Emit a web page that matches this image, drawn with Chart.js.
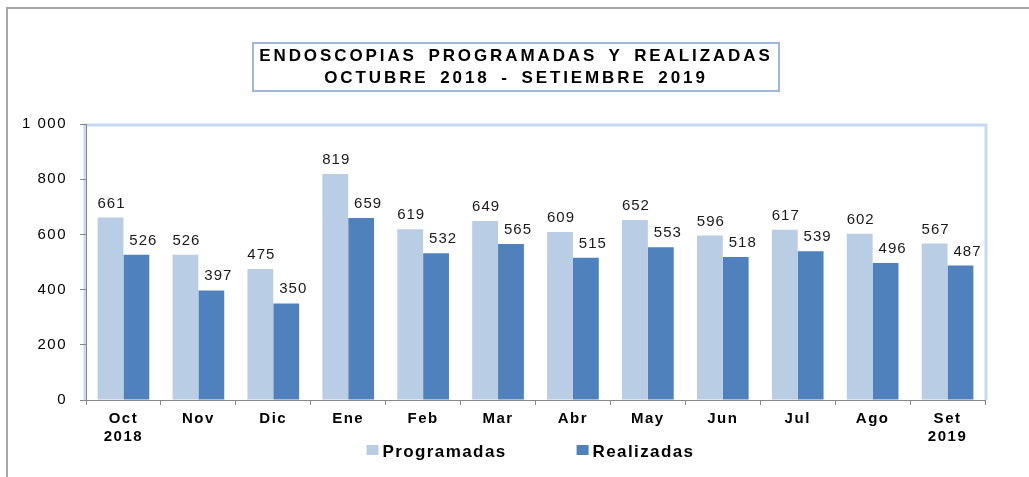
<!DOCTYPE html>
<html>
<head>
<meta charset="utf-8">
<script src="https://cdn.jsdelivr.net/npm/chart.js@4.4.1/dist/chart.umd.min.js"></script>
<style>
  html, body { margin: 0; padding: 0; background: #fff; }
  #wrap { position: relative; width: 1029px; height: 477px; }
  #title {
    position: absolute; left: 252px; top: 42px; width: 524px; height: 45px;
    border: 2px solid #9db8da; box-sizing: content-box;
    font-family: "Liberation Sans", Arial, sans-serif; font-weight: bold;
    font-size: 17px; line-height: 22px; letter-spacing: 2.9px; word-spacing: 4px;
    text-align: center; color: #000; padding-top: 1px;
  }
</style>
</head>
<body>
<div id="wrap">
  <canvas id="chart" width="1029" height="477"></canvas>
  <div id="title">ENDOSCOPIAS PROGRAMADAS Y REALIZADAS<br>OCTUBRE 2018 - SETIEMBRE 2019</div>
</div>
<script>
const months = [['Oct', '2018'], 'Nov', 'Dic', 'Ene', 'Feb', 'Mar', 'Abr', 'May', 'Jun', 'Jul', 'Ago', ['Set', '2019']];
const programadas = [661, 526, 475, 819, 619, 649, 609, 652, 596, 617, 602, 567];
const realizadas = [526, 397, 350, 659, 532, 565, 515, 553, 518, 539, 496, 487];
const yTicks = [0, 200, 400, 600, 800, 1000];

const fontFamily = '"Liberation Sans", Arial, sans-serif';

// the original text is a little wide, so space the letters
const spacing = {
  id: 'spacing',
  beforeLayout(chart) { chart.ctx.letterSpacing = '1.5px'; },
  beforeDraw(chart) { chart.ctx.letterSpacing = '1.5px'; }
};

// outer frame + light blue plot border
const framePlugin = {
  id: 'frame',
  beforeDraw(chart) {
    const ctx = chart.ctx;
    const a = chart.chartArea;
    ctx.save();
    ctx.strokeStyle = '#a6a6a6';
    ctx.lineWidth = 2;
    ctx.beginPath();
    ctx.moveTo(7, 477);
    ctx.lineTo(7, 8);
    ctx.lineTo(1029, 8);
    ctx.stroke();
    ctx.strokeStyle = '#c6d9f1';
    ctx.lineWidth = 3;
    ctx.beginPath();
    ctx.moveTo(a.left - 1, a.bottom);
    ctx.lineTo(a.left - 1, a.top + 1);
    ctx.lineTo(a.right + 1, a.top + 1);
    ctx.lineTo(a.right + 1, a.bottom);
    ctx.stroke();
    ctx.restore();
  }
};

// value labels above bars
const valueLabels = {
  id: 'valueLabels',
  afterDatasetsDraw(chart) {
    const ctx = chart.ctx;
    ctx.save();
    ctx.font = '15px ' + fontFamily;
    ctx.letterSpacing = '1px';
    ctx.fillStyle = '#1a1a1a';
    ctx.textAlign = 'center';
    ctx.textBaseline = 'alphabetic';
    chart.data.datasets.forEach((ds, i) => {
      chart.getDatasetMeta(i).data.forEach((bar, j) => {
        ctx.fillText(ds.data[j], bar.x + (i === 1 ? 7 : 1), bar.y - 10);
      });
    });
    ctx.restore();
  }
};

// legend drawn by hand so the gap between the two items can be wide
const bottomLegend = {
  id: 'bottomLegend',
  afterDraw(chart) {
    const ctx = chart.ctx;
    const a = chart.chartArea;
    const dsets = chart.data.datasets;
    ctx.save();
    ctx.font = 'bold 17px ' + fontFamily;
    ctx.letterSpacing = '1.4px';
    ctx.textBaseline = 'alphabetic';
    ctx.textAlign = 'left';
    const gap = 70, box = 12, boxGap = 4;
    const widths = dsets.map(d => box + boxGap + ctx.measureText(d.label).width);
    const total = widths.reduce((s, w) => s + w, 0) + gap * (dsets.length - 1);
    let x = (a.left + a.right) / 2 - total / 2 - 5;
    const y = 457;
    dsets.forEach((d, i) => {
      ctx.fillStyle = d.backgroundColor;
      ctx.fillRect(x, y - 12, box, 10);
      ctx.fillStyle = '#000';
      ctx.fillText(d.label, x + box + boxGap, y);
      x += widths[i] + gap;
    });
    ctx.restore();
  }
};

new Chart(document.getElementById('chart'), {
  type: 'bar',
  data: {
    labels: months,
    datasets: [
      { label: 'Programadas', data: programadas, backgroundColor: '#b9cde5' },
      { label: 'Realizadas', data: realizadas, backgroundColor: '#4f81bd' }
    ]
  },
  options: {
    responsive: false,
    animation: false,
    layout: { padding: { top: 124, right: 44, left: 0, bottom: 32 } },
    datasets: { bar: { categoryPercentage: 0.69, barPercentage: 1.0 } },
    plugins: {
      legend: { display: false },
      tooltip: { enabled: false }
    },
    scales: {
      x: {
        grid: { drawOnChartArea: false, tickLength: 5, color: '#888', offset: true },
        border: { color: '#888', width: 1 },
        ticks: { color: '#000', padding: 5, font: { family: fontFamily, size: 15, weight: 'bold', lineHeight: 1.2 } },
        afterFit(s) { s.height = 45; }
      },
      y: {
        min: 0, max: 1000,
        afterBuildTicks(s) { s.ticks = yTicks.map(v => ({ value: v })); },
        grid: { drawOnChartArea: false, tickLength: 6, color: '#888' },
        border: { color: '#888', width: 1 },
        ticks: {
          color: '#000', padding: 13,
          font: { family: fontFamily, size: 15 },
          callback: v => v >= 1000 ? '1 000' : String(v)
        },
        afterFit(s) { s.width = 86; }
      }
    }
  },
  plugins: [spacing, framePlugin, valueLabels, bottomLegend]
});
</script>
</body>
</html>
